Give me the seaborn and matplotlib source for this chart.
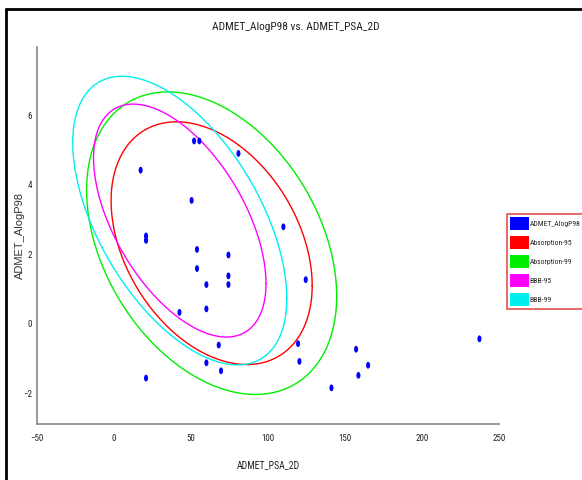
import numpy as np
import pandas as pd
import matplotlib
matplotlib.use('Agg')
import matplotlib.pyplot as plt
from matplotlib.patches import Patch
from matplotlib.lines import Line2D
from matplotlib import font_manager
import seaborn as sns

# compounds: ADMET_PSA_2D vs ADMET_AlogP98
psa = [52.2, 55.6, 81.0, 17.5, 50.6, 110.2, 21.0, 21.0, 54.1, 74.5,
       54.1, 74.5, 124.7, 60.2, 74.5, 42.7, 60.2, 68.2, 60.2, 69.7,
       21.0, 119.7, 120.6, 157.4, 165.2, 158.9, 141.4, 237.5]
alogp = [5.26, 5.26, 4.90, 4.42, 3.55, 2.79, 2.53, 2.40, 2.14, 1.98,
         1.59, 1.38, 1.27, 1.13, 1.13, 0.33, 0.43, -0.61, -1.12, -1.35,
         -1.56, -0.57, -1.08, -0.73, -1.19, -1.48, -1.84, -0.43]

# confidence ellipses (centre, half extents, cos of phase shift)
ellipse_names = ['Absorption-95', 'Absorption-99', 'BBB-95', 'BBB-99']
ellipse_cx = [63.6, 63.6, 42.9, 42.9]
ellipse_cy = [2.32, 2.32, 2.97, 2.97]
ellipse_w = [65.3, 81.2, 56.0, 69.5]
ellipse_h = [3.49, 4.35, 3.35, 4.15]
ellipse_tilt = [-0.35, -0.35, -0.54, -0.54]

x_ticks = [-50, 0, 50, 100, 150, 200, 250]
y_ticks = [-2, 0, 2, 4, 6]

colors = {'ADMET_AlogP98': '#0000ff', 'Absorption-95': '#ff0000',
          'Absorption-99': '#00ee00', 'BBB-95': '#ff00ff', 'BBB-99': '#00eeee'}

sns.set_style('white')

# prefer a narrow face, like the original Tahoma-ish chart text
names = {f.name for f in font_manager.fontManager.ttflist}
narrow = None
for cand in ['Liberation Sans Narrow', 'DejaVu Sans Condensed', 'Roboto Condensed',
             'Open Sans Condensed']:
    if cand in names:
        narrow = cand
        break
if narrow is None:
    narrow = 'Liberation Sans' if 'Liberation Sans' in names else 'DejaVu Sans'
    scale = 0.9
else:
    scale = 1.0
plain = 'Liberation Sans' if 'Liberation Sans' in names else 'DejaVu Sans'
plt.rcParams['font.family'] = [narrow, 'DejaVu Sans']

fig = plt.figure(figsize=(5.82, 4.80), dpi=100)
ax = fig.add_axes([36.7 / 582, 1 - 424 / 480, 462 / 582, (424 - 46.7) / 480])

# ellipses
t = np.linspace(0, 2 * np.pi, 361)
rows = []
for name, cx, cy, w, h, c in zip(ellipse_names, ellipse_cx, ellipse_cy,
                                 ellipse_w, ellipse_h, ellipse_tilt):
    d = np.arccos(c)
    rows.append(pd.DataFrame({'x': cx + w * np.cos(t),
                              'y': cy + h * np.cos(t + d),
                              'name': name}))
ell = pd.concat(rows, ignore_index=True)
sns.lineplot(data=ell, x='x', y='y', hue='name', palette=colors, sort=False,
             estimator=None, linewidth=1.0, legend=False, ax=ax)

# points (slightly tall ovals)
a = np.linspace(0, 2 * np.pi, 30)
oval = list(zip(0.6 * np.cos(a), np.sin(a)))
df = pd.DataFrame({'psa': psa, 'alogp': alogp})
sns.scatterplot(data=df, x='psa', y='alogp', color='#0000ff', marker=oval,
                s=24, edgecolor='none', ax=ax, zorder=5)

ax.set_xlim(-50, 250)
ax.set_ylim(-2.88, 7.97)
ax.set_xticks(x_ticks)
ax.set_yticks(y_ticks)
for s in ['top', 'right']:
    ax.spines[s].set_visible(False)
for s in ['left', 'bottom']:
    ax.spines[s].set_color('#888888')
    ax.spines[s].set_linewidth(1.2)
ax.tick_params(direction='inout', length=5, width=1, color='#888888',
               labelsize=6.5 * scale, labelcolor='#222222')
ax.tick_params(axis='x', pad=5)
ax.tick_params(axis='y', pad=1)
ax.set_xlabel('ADMET_PSA_2D', fontsize=7 * scale, color='#222222')
ax.xaxis.set_label_coords(0.501, -0.095)
ax.set_ylabel('ADMET_AlogP98', fontsize=8, color='#333333', family=plain)
ax.yaxis.set_label_coords(-0.025, 0.5)

fig.text(296 / 582, 1 - 27 / 480, 'ADMET_AlogP98 vs. ADMET_PSA_2D',
         ha='center', va='center', fontsize=8.2 * scale, color='#222222')

# legend with coloured blocks
handles = [Patch(facecolor=v, edgecolor='none', label=k) for k, v in colors.items()]
leg = fig.legend(handles=handles, loc='upper left',
                 bbox_to_anchor=(507 / 582, 1 - 214 / 480), borderaxespad=0,
                 fontsize=5.5 * scale, handlelength=2.4, handleheight=2.2,
                 handletextpad=0.1, labelspacing=0.8, borderpad=0.45,
                 fancybox=False, framealpha=1)
leg.get_frame().set_edgecolor('#e05050')
leg.get_frame().set_linewidth(1.2)

# window frame lines on the top and left
fig.add_artist(Line2D([6 / 582, 1], [1 - 9 / 480, 1 - 9 / 480],
                      color='black', linewidth=2, transform=fig.transFigure))
fig.add_artist(Line2D([6 / 582, 6 / 582], [0, 1 - 9 / 480],
                      color='black', linewidth=2, transform=fig.transFigure))

fig.savefig('out.png', dpi=100, facecolor='white')
